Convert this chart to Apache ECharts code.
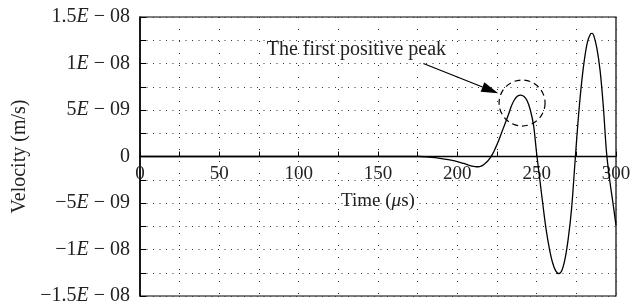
<!DOCTYPE html>
<html>
<head>
<meta charset="utf-8">
<script src="https://cdn.jsdelivr.net/npm/echarts@6/dist/echarts.min.js"></script>
<style>html,body{margin:0;padding:0;background:#fff}#c{width:631px;height:306px}</style>
</head>
<body>
<div id="c"></div>
<script>
// Time in microseconds
var timeUs = [0, 25, 50, 75, 100, 125, 150, 170, 176, 180, 184, 188, 192, 196, 200, 204, 207, 210, 212, 214, 216, 218, 220, 222, 224, 226, 228, 230, 232, 234, 236, 238, 240, 242, 244, 246, 248, 250, 252, 254, 256, 258, 260, 262, 264, 266, 268, 270, 272, 274, 276, 278, 280, 282, 284, 285, 286, 288, 290, 292, 294, 296, 298, 300];
// Velocity in units of 1E-09 m/s
var velocity = [0, 0, 0, 0, 0, 0, 0, 0, 0, -0.04, -0.1, -0.18, -0.28, -0.4, -0.55, -0.75, -0.92, -1.05, -1.1, -1.08, -0.95, -0.68, -0.3, 0.2, 0.9, 1.7, 2.6, 3.5, 4.4, 5.4, 6.1, 6.5, 6.6, 6.45, 6.0, 5.0, 3.4, 0.3, -2.5, -5.3, -7.9, -9.9, -11.4, -12.3, -12.6, -12.2, -10.9, -8.7, -5.6, -1.0, 3.6, 7.4, 10.3, 12.3, 13.2, 13.25, 13.0, 11.6, 9.2, 5.4, 0.5, -2.5, -4.9, -7.4];
// Y tick labels (value in 1E-09 m/s -> mantissa / exponent)
var yTickValues = [-15, -10, -5, 0, 5, 10, 15];
var yMantissa = ['\u22121.5', '\u22121', '\u22125', '0', '5', '1', '1.5'];
var yExponent = ['08', '08', '09', '', '09', '08', '08'];
// X tick labels
var xTickValues = [0, 50, 100, 150, 200, 250, 300];
// Annotation
var annotationText = 'The first positive peak';
var circleCenter = [240.8, 5.75];
var arrowFrom = [178.6, 10.0];
var arrowTo = [225.8, 6.8];
var textCenter = [136.4, 11.45];

var FONT = 'Liberation Serif';
var chart = echarts.init(document.getElementById('c'), null, {renderer: 'canvas'});
var data = timeUs.map(function (t, i) { return [t, velocity[i]]; });

var dotted = function (d) { return {color: '#333', width: 1, type: [1, d]}; };

chart.setOption({
  animation: false,
  backgroundColor: '#fff',
  textStyle: {fontFamily: FONT},
  grid: {left: 140, right: 15, top: 17, bottom: 10, show: true, borderColor: '#000', borderWidth: 1.2, backgroundColor: 'transparent', containLabel: false, outerBoundsMode: 'none'},
  xAxis: {
    type: 'value', min: 0, max: 300, interval: 50, position: 'bottom', offset: 0,
    name: 'Time ({i|\u03bc}s)', nameLocation: 'middle', nameGap: 35,
    nameTextStyle: {fontFamily: FONT, fontSize: 19, color: '#222', rich: {i: {fontFamily: FONT, fontStyle: 'italic', fontSize: 19, color: '#222'}}},
    axisLine: {show: true, onZero: false, lineStyle: {color: '#000', width: 1.3}},
    axisTick: {show: true, inside: true, length: 5, lineStyle: {color: '#000', width: 1}},
    minorTick: {show: true, splitNumber: 2, length: 5, lineStyle: {color: '#000', width: 1}},
    axisLabel: {fontFamily: FONT, fontSize: 19, color: '#222', margin: 8,
      formatter: function (v) { return xTickValues.indexOf(Math.round(v)) >= 0 ? String(Math.round(v)) : ''; }},
    splitLine: {show: true, lineStyle: dotted(11)},
    minorSplitLine: {show: true, lineStyle: dotted(11)}
  },
  yAxis: {
    type: 'value', min: -15, max: 15, interval: 5,
    name: 'Velocity (m/s)', nameLocation: 'middle', nameGap: 106, nameRotate: 90,
    nameTextStyle: {fontFamily: FONT, fontSize: 20, color: '#222'},
    axisLine: {show: true, onZero: false, lineStyle: {color: '#000', width: 1.5}},
    axisTick: {show: true, inside: true, length: 6, lineStyle: {color: '#000', width: 1}},
    minorTick: {show: true, splitNumber: 2, length: 6, lineStyle: {color: '#000', width: 1}},
    axisLabel: {fontFamily: FONT, fontSize: 20, color: '#222', margin: 10,
      formatter: function (v) {
        for (var i = 0; i < yTickValues.length; i++) {
          if (Math.abs(yTickValues[i] - v) < 1e-6) {
            if (!yExponent[i]) return yMantissa[i];
            return yMantissa[i] + '{e|E} \u2212 ' + yExponent[i];
          }
        }
        return '';
      },
      rich: {e: {fontFamily: FONT, fontStyle: 'italic', fontSize: 20, color: '#222'}}
    },
    splitLine: {show: true, lineStyle: dotted(5.5)},
    minorSplitLine: {show: true, lineStyle: dotted(5.5)}
  },
  series: [{
    type: 'line', data: data, showSymbol: false, smooth: 0.35,
    lineStyle: {color: '#000', width: 1.3}, z: 5
  }]
});

function px(p) { return chart.convertToPixel({gridIndex: 0}, p); }
// move the x axis onto the zero line
var zeroY = px([0, 0])[1], bottomY = px([0, -15])[1];
chart.setOption({xAxis: {offset: zeroY - bottomY}});

var c = px(circleCenter), a0 = px(arrowFrom), a1 = px(arrowTo), tc = px(textCenter);
var dx = a1[0] - a0[0], dy = a1[1] - a0[1], L = Math.sqrt(dx * dx + dy * dy);
var ux = dx / L, uy = dy / L, hl = 17, hw = 5;
var bx = a1[0] - ux * hl, by = a1[1] - uy * hl;

chart.setOption({
  graphic: [
    {type: 'circle', shape: {cx: c[0], cy: c[1], r: 23}, style: {fill: 'none', stroke: '#000', lineWidth: 1.2, lineDash: [6, 4]}, z: 10},
    {type: 'line', shape: {x1: a0[0], y1: a0[1], x2: bx, y2: by}, style: {stroke: '#000', lineWidth: 1.3}, z: 10},
    {type: 'polygon', shape: {points: [[a1[0], a1[1]], [bx - uy * hw, by + ux * hw], [bx + uy * hw, by - ux * hw]]}, style: {fill: '#000'}, z: 10},
    {type: 'text', x: tc[0], y: tc[1], style: {text: annotationText, font: '20px "Liberation Serif"', fill: '#222', align: 'center', verticalAlign: 'middle'}, z: 10}
  ]
});
</script>
</body>
</html>
